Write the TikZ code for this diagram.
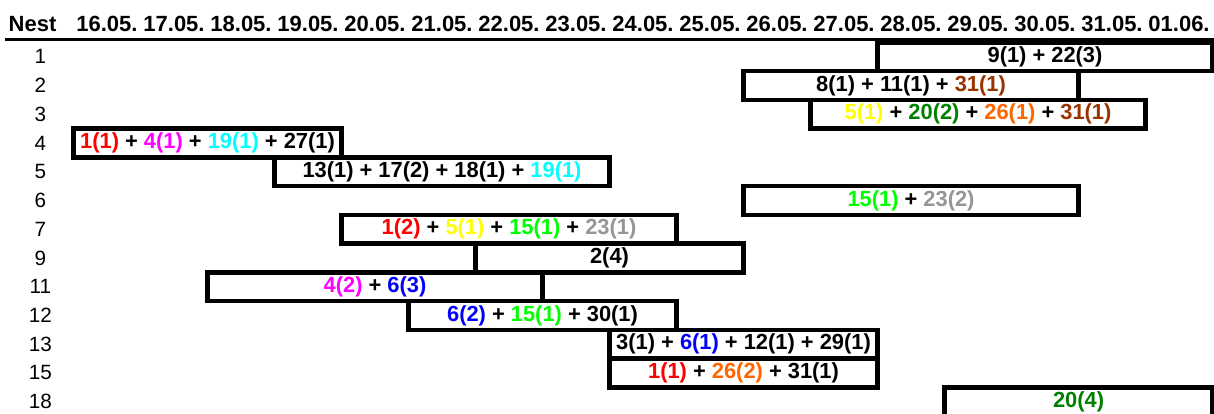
\documentclass[tikz,border=0pt]{standalone}
\usepackage{fontspec}
\setmainfont{Liberation Sans}
\usepackage{xcolor}
\definecolor{xlred}{HTML}{FF0000}
\definecolor{xlmagenta}{HTML}{FF00FF}
\definecolor{xlcyan}{HTML}{00FFFF}
\definecolor{xlyellow}{HTML}{FFFF00}
\definecolor{xllime}{HTML}{00FF00}
\definecolor{xlgreen}{HTML}{008000}
\definecolor{xlorange}{HTML}{FF6600}
\definecolor{xlbrown}{HTML}{993300}
\definecolor{xlgray}{HTML}{969696}
\definecolor{xlblue}{HTML}{0000FF}

\begin{document}
\begin{tikzpicture}[
    x=50.25pt,
    y=-21.55pt,
    every node/.style={font=\bfseries\fontsize{16.4}{19}\selectfont},
    slot/.style={
        rectangle,
        draw=black,
        line width=3.3pt,
        inner sep=0pt,
        minimum height=21.55pt,
        align=center
    },
    span/.style={minimum width=#1*50.25pt},
    dayLabel/.style={anchor=base, font=\bfseries\fontsize{16.5}{19}\selectfont},
    nestLabel/.style={font=\fontsize{15.5}{18}\selectfont}
]
\useasboundingbox (-1.097,-1.479) rectangle (17.022,12.896);

% header
\node[dayLabel] (nest) at (-0.612,-0.376) {Nest};
\foreach \d [count=\i from 0] in {16.05.,17.05.,18.05.,19.05.,20.05.,21.05.,22.05.,23.05.,24.05.,25.05.,26.05.,27.05.,28.05.,29.05.,30.05.,31.05.,01.06.}
    \node[dayLabel] (d\i) at (\i+0.5,-0.376) {\d};
\coordinate (ruleL) at (-1.022,-0.094);
\coordinate (ruleR) at (17.022,-0.094);
\draw[line width=2.2pt] (ruleL) -- (ruleR);

% nest numbers
\foreach \n [count=\r from 0] in {1,2,3,4,5,6,7,9,11,12,13,15,18}
    \node[nestLabel] (lbl\n) at (-0.493,\r+0.5) {\n};

% occupancy bars
\node[slot, span=5] (b1) at (14.5,0.5) {9(1) + 22(3)};
\node[slot, span=5] (b2) at (12.5,1.5) {8(1) + 11(1) + \textcolor{xlbrown}{31(1)}};
\node[slot, span=5] (b3) at (13.5,2.5) {\textcolor{xlyellow}{5(1)} + \textcolor{xlgreen}{20(2)} + \textcolor{xlorange}{26(1)} + \textcolor{xlbrown}{31(1)}};
\node[slot, span=4] (b4) at (2,3.5) {\textcolor{xlred}{1(1)} + \textcolor{xlmagenta}{4(1)} + \textcolor{xlcyan}{19(1)} + 27(1)};
\node[slot, span=5] (b5) at (5.5,4.5) {13(1) + 17(2) + 18(1) + \textcolor{xlcyan}{19(1)}};
\node[slot, span=5] (b6) at (12.5,5.5) {\textcolor{xllime}{15(1)} + \textcolor{xlgray}{23(2)}};
\node[slot, span=5] (b7) at (6.5,6.5) {\textcolor{xlred}{1(2)} + \textcolor{xlyellow}{5(1)} + \textcolor{xllime}{15(1)} + \textcolor{xlgray}{23(1)}};
\node[slot, span=4] (b9) at (8,7.5) {2(4)};
\node[slot, span=5] (b11) at (4.5,8.5) {\textcolor{xlmagenta}{4(2)} + \textcolor{xlblue}{6(3)}};
\node[slot, span=4] (b12) at (7,9.5) {\textcolor{xlblue}{6(2)} + \textcolor{xllime}{15(1)} + 30(1)};
\node[slot, span=4] (b13) at (10,10.5) {3(1) + \textcolor{xlblue}{6(1)} + 12(1) + 29(1)};
\node[slot, span=4] (b15) at (10,11.5) {\textcolor{xlred}{1(1)} + \textcolor{xlorange}{26(2)} + 31(1)};
\node[slot, span=4] (b18) at (15,12.5) {\textcolor{xlgreen}{20(4)}};

\end{tikzpicture}
\end{document}
